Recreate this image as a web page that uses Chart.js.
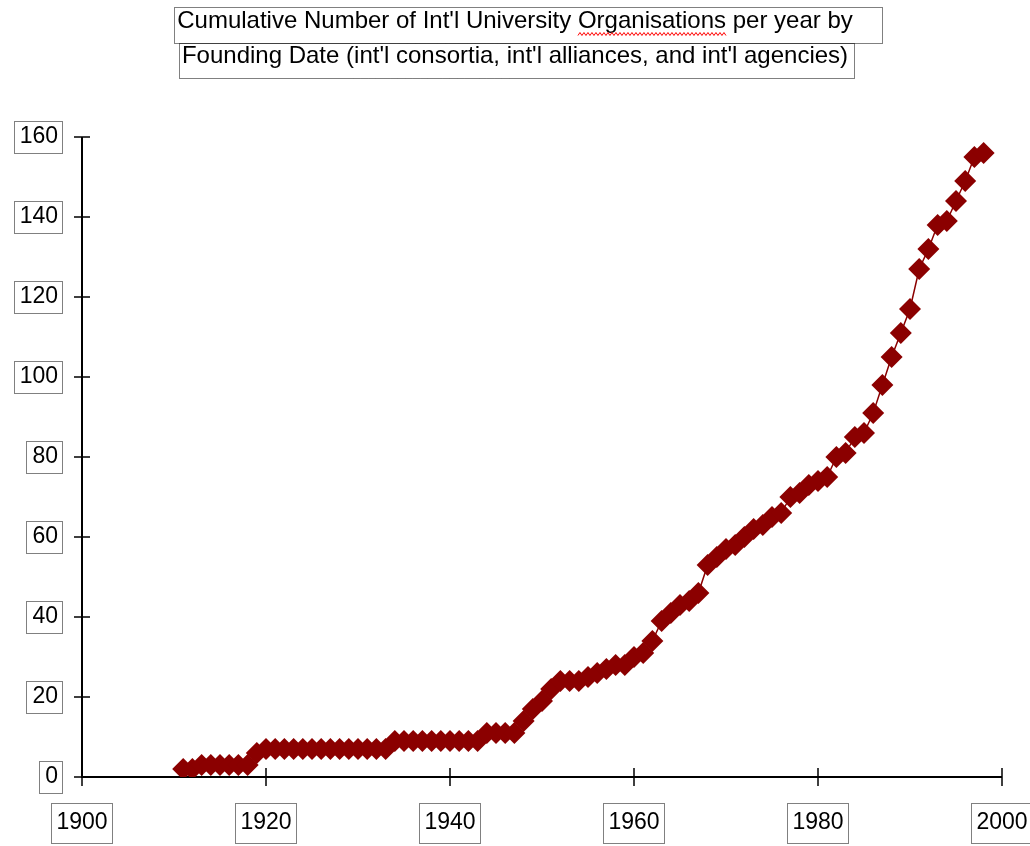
<!DOCTYPE html>
<html>
<head>
<meta charset="utf-8">
<title>Cumulative Number of Int'l University Organisations</title>
<script src="https://cdn.jsdelivr.net/npm/chart.js@4/dist/chart.umd.min.js"></script>
<style>
  html, body { margin: 0; padding: 0; background: #fff; }
  #wrap { width: 1030px; height: 846px; }
</style>
</head>
<body>
<div id="wrap"><canvas id="chart" width="1030" height="846"></canvas></div>
<script>
/* ============== DATA ============== */
const TITLE_LINES = [
  "Cumulative Number of Int'l University Organisations per year by",
  "Founding Date (int'l consortia, int'l alliances, and int'l agencies)",
];
const MISSPELLED = "Organisations"; // red squiggle under it in the original

const YEARS = [
  1911, 1912, 1913, 1914, 1915, 1916, 1917, 1918, 1919, 1920,
  1921, 1922, 1923, 1924, 1925, 1926, 1927, 1928, 1929, 1930,
  1931, 1932, 1933, 1934, 1935, 1936, 1937, 1938, 1939, 1940,
  1941, 1942, 1943, 1944, 1945, 1946, 1947, 1948, 1949, 1950,
  1951, 1952, 1953, 1954, 1955, 1956, 1957, 1958, 1959, 1960,
  1961, 1962, 1963, 1964, 1965, 1966, 1967, 1968, 1969, 1970,
  1971, 1972, 1973, 1974, 1975, 1976, 1977, 1978, 1979, 1980,
  1981, 1982, 1983, 1984, 1985, 1986, 1987, 1988, 1989, 1990,
  1991, 1992, 1993, 1994, 1995, 1996, 1997, 1998,
];
const CUMULATIVE = [
  2, 2, 3, 3, 3, 3, 3, 3, 6, 7,
  7, 7, 7, 7, 7, 7, 7, 7, 7, 7,
  7, 7, 7, 9, 9, 9, 9, 9, 9, 9,
  9, 9, 9, 11, 11, 11, 11, 14, 17, 19,
  22, 24, 24, 24, 25, 26, 27, 28, 28, 30,
  31, 34, 39, 41, 43, 44, 46, 53, 55, 57,
  58, 60, 62, 63, 65, 66, 70, 71, 73, 74,
  75, 80, 81, 85, 86, 91, 98, 105, 111, 117,
  127, 132, 138, 139, 144, 149, 155, 156,
];
const X_TICKS = [1900, 1920, 1940, 1960, 1980, 2000];
const Y_TICKS = [0, 20, 40, 60, 80, 100, 120, 140, 160];

/* ============== STYLE ============== */
const FONT = "'Liberation Sans', Arial, sans-serif";
const RED = "#8b0000";
const TICK_SIZE = 23;
const TITLE_SIZE = 24;
const TITLE_LH = 35;

/* ============== HELPERS ============== */
function dottedBox(ctx, x, y, w, h) {
  ctx.save();
  ctx.strokeStyle = "#000";
  ctx.lineWidth = 1;
  ctx.setLineDash([1, 1]);
  ctx.strokeRect(Math.round(x) + 0.5, Math.round(y) + 0.5, Math.round(w), Math.round(h));
  ctx.restore();
}

function squiggle(ctx, x0, x1, y) {
  ctx.save();
  ctx.strokeStyle = "#ff0000";
  ctx.lineWidth = 1;
  ctx.beginPath();
  let up = true;
  ctx.moveTo(x0, y);
  for (let x = x0 + 2; x <= x1; x += 2) {
    ctx.lineTo(x, up ? y - 3 : y);
    up = !up;
  }
  ctx.stroke();
  ctx.restore();
}

// axis lines + tick marks that cross the axis (old Excel look)
const axesPlugin = {
  id: "crossAxes",
  beforeDatasetsDraw(chart) {
    const { ctx, chartArea: a, scales } = chart;
    ctx.save();
    ctx.strokeStyle = "#000";
    ctx.lineWidth = 2;
    ctx.beginPath();
    ctx.moveTo(a.left, a.top);
    ctx.lineTo(a.left, a.bottom);
    ctx.lineTo(a.right, a.bottom);
    ctx.stroke();
    ctx.lineWidth = 1.5;
    ctx.beginPath();
    X_TICKS.forEach((v) => {
      const px = Math.round(scales.x.getPixelForValue(v));
      ctx.moveTo(px, a.bottom - 9);
      ctx.lineTo(px, a.bottom + 9);
    });
    Y_TICKS.forEach((v) => {
      const py = Math.round(scales.y.getPixelForValue(v));
      ctx.moveTo(a.left - 8, py);
      ctx.lineTo(a.left + 8, py);
    });
    ctx.stroke();
    ctx.restore();
  },
  afterDraw(chart) {
    const { ctx, chartArea: a, scales } = chart;
    ctx.save();
    // boxes round tick labels
    ctx.font = `${TICK_SIZE}px ${FONT}`;
    const yPad = scales.y.options.ticks.padding;
    Y_TICKS.forEach((v) => {
      const w = ctx.measureText(String(v)).width;
      const py = scales.y.getPixelForValue(v);
      const right = a.left - yPad;
      dottedBox(ctx, right - w - 6, py - 16, w + 10, 32);
    });
    const xLabelY = a.bottom + 46;
    X_TICKS.forEach((v) => {
      const w = ctx.measureText(String(v)).width;
      const px = scales.x.getPixelForValue(v);
      dottedBox(ctx, px - w / 2 - 5, xLabelY - 20, w + 10, 40);
    });

    // boxes round the two title lines + spell-check squiggle
    const tb = chart.titleBlock;
    const tPad = tb.options.padding;
    const cx = (tb.left + tb.right) / 2;
    ctx.font = `${TITLE_SIZE}px ${FONT}`;
    const extraRight = [26, 3];
    const boxTop = [-15, -14];
    const boxH = [36, 35];
    TITLE_LINES.forEach((line, i) => {
      const w = ctx.measureText(line).width;
      const cy = tb.top + tPad.top + TITLE_LH * (i + 0.5);
      dottedBox(ctx, cx - w / 2 - 3, cy + boxTop[i], w + 6 + extraRight[i], boxH[i]);
      const at = line.indexOf(MISSPELLED);
      if (at >= 0) {
        const x0 = cx - w / 2 + ctx.measureText(line.slice(0, at)).width;
        const x1 = x0 + ctx.measureText(MISSPELLED).width;
        squiggle(ctx, x0, x1, cy + 14);
      }
    });
    ctx.restore();
  },
};

/* ============== CHART ============== */
const points = YEARS.map((y, i) => ({ x: y, y: CUMULATIVE[i] }));

new Chart(document.getElementById("chart"), {
  type: "line",
  data: {
    datasets: [
      {
        label: "Cumulative organisations",
        data: points,
        borderColor: RED,
        borderWidth: 1.5,
        backgroundColor: RED,
        pointStyle: "rectRot",
        pointRadius: 11,
        pointBorderWidth: 0,
        pointBackgroundColor: RED,
        tension: 0,
        fill: false,
      },
    ],
  },
  options: {
    responsive: false,
    animation: false,
    devicePixelRatio: 1,
    layout: { padding: 0 },
    plugins: {
      legend: { display: false },
      tooltip: { enabled: false },
      title: {
        display: true,
        text: TITLE_LINES,
        color: "#000",
        font: { family: FONT, size: TITLE_SIZE, weight: "normal", lineHeight: TITLE_LH / TITLE_SIZE },
        padding: { top: 4, bottom: 63 },
      },
    },
    scales: {
      x: {
        type: "linear",
        min: 1900,
        max: 2000,
        afterBuildTicks: (s) => { s.ticks = X_TICKS.map((v) => ({ value: v })); },
        afterFit: (s) => {
          s.height = 69;
          // room on the right only for the "2000" label, not for the tick padding
          s.paddingLeft = 0;
          s.paddingRight = 28;
        },
        grid: { display: false, drawTicks: false },
        border: { display: false },
        ticks: {
          color: "#000",
          font: { family: FONT, size: TICK_SIZE },
          padding: 32,
          maxRotation: 0,
          autoSkip: false,
          callback: (v) => String(v),
        },
      },
      y: {
        min: 0,
        max: 160,
        afterBuildTicks: (s) => { s.ticks = Y_TICKS.map((v) => ({ value: v })); },
        afterFit: (s) => { s.width = 82; },
        grid: { display: false, drawTicks: false },
        border: { display: false },
        ticks: {
          color: "#000",
          font: { family: FONT, size: TICK_SIZE },
          padding: 24,
          autoSkip: false,
          callback: (v) => String(v),
        },
      },
    },
  },
  plugins: [axesPlugin],
});
</script>
</body>
</html>
